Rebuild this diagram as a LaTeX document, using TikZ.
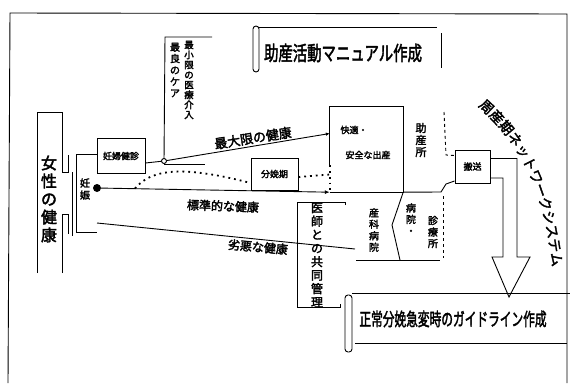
\documentclass[tikz,border=0pt]{standalone}
\usepackage{fontspec}
\newfontfamily\jpfont[BoldFont={Noto Sans CJK JP}, BoldFeatures={FakeBold=2.5}]{Noto Sans CJK JP}
\newcommand\jfs[2]{\jpfont\bfseries\fontsize{#1}{#2}\selectfont}
\usetikzlibrary{arrows.meta,decorations.text}
\begin{document}
\begin{tikzpicture}[x=1pt,y=-1pt,
  ln/.style={line width=0.9pt},
  bx/.style={draw, line width=0.9pt, inner sep=0pt},
  vt/.style={align=center, inner sep=0pt},
  lb/.style={inner sep=0pt},
  dots/.style={line width=1.8pt, dash pattern=on 1.8pt off 4pt}]
\useasboundingbox (0,0) rectangle (573,383);
% outer frame
\draw[ln] (8,383) -- (10,13) -- (567,14) -- (567,383);
% women's health box
\draw[ln] (37,273) -- (37,112) -- (62,112) -- (62,172) -- (68,172) -- (68,155);
\draw[ln] (62,273) -- (62,214) -- (68,214) -- (68,234);
\node[vt, font=\jfs{16}{18}] (women) at (49,199) {女\\性\\の\\健\\康};
% bracket
\draw[ln] (97,154) -- (76,154) -- (76,232) -- (97,232);
\draw[ln] (72,172) -- (72,236);
% pregnancy
\node[vt, font=\jfs{10}{12}] (preg) at (85,189) {妊\\娠};
\node[circle, fill, inner sep=0pt, minimum size=8pt] (dot) at (97,188) {};
% boxes
\node[bx, minimum width=48pt, minimum height=35pt, font=\jfs{9}{10}] (exam) at (121,156) {妊婦健診};
\node[bx, minimum width=47pt, minimum height=32pt, font=\jfs{9}{10}] (phase) at (274.5,174) {分娩期};
\node[inner sep=0pt, minimum width=73pt, minimum height=85pt] (safe) at (366.5,149.5) {};
\node[lb, font=\jfs{9}{10}] (safeA) at (354,130) {快適・};
\node[lb, font=\jfs{9}{10}] (safeB) at (368,155) {安全な出産};
\node[bx, minimum width=35pt, minimum height=33pt, font=\jfs{9}{10}] (trans) at (472.5,166.5) {搬送};
% junction
\node[circle, draw, fill=white, line width=0.9pt, inner sep=0pt, minimum size=5pt] (j1) at (164,161) {};
\coordinate (cTop) at (165,37);
\coordinate (cTopR) at (212,37);
\coordinate (u1) at (205,164);
\draw[ln] (cTopR) -- (cTop) -- (j1);
\draw[ln] ([yshift=-7pt]exam.east) -- (j1);
\draw[ln] ([yshift=-3pt]j1.center) -- (u1);
\draw[ln,-{Latex[length=4pt,width=3.5pt]}] (j1) -- ([yshift=16pt]safe.west);
% safe box edges
\draw[ln] ([yshift=27pt]safe.south west) -- (safe.north west) -- (safe.north east) -- (safe.south east) -- (safe.south west);
\draw[dots] ([yshift=27pt]safe.south west) -- (safe.south west);
% standard path
\coordinate (d0) at (135,188.5);
\draw[dots] (d0) .. controls (152,168) and (185,166) .. ([yshift=-9pt]phase.west);
\draw[dots] ([yshift=-3pt]phase.east) -- ([yshift=-25pt]safe.west);
\draw[ln,-{Latex[length=5pt,width=4pt]}] (dot) -- (safe.south west);
% poor path
\coordinate (p1) at (97,223);
\coordinate (p2) at (355,249);
\draw[ln] (p1) -- (p2);
% labels of paths
\node[lb, font=\jfs{13}{14}, rotate=9] (best) at (253,138) {最大限の健康};
\node[lb, font=\jfs{12}{13}, rotate=-2] (std) at (223,206) {標準的な健康};
\node[lb, font=\jfs{12}{13}, rotate=-5] (poor) at (258,247) {劣悪な健康};
% care bracket texts
\node[vt, font=\jfs{10}{11.5}] (care) at (175,70) {最\\良\\の\\ケ\\ア};
\node[vt, font=\jfs{9.5}{10}] (minint) at (189,80) {最\\小\\限\\の\\医\\療\\介\\入};
% midwifery home
\node[vt, font=\jfs{11}{12}] (mw) at (421,140) {助\\産\\所};
\coordinate (mwR1) at (444,112);
\coordinate (mwR2) at (446,155);
\draw[ln, dashed] (mwR1) -- (mwR2) -- ([yshift=11pt]trans.west);
\coordinate (mwB) at (441,192);
\coordinate (mwB2) at (446,184);
\draw[ln] (safe.south east) -- (mwB) -- (mwB2) -- ([yshift=-14.5pt]trans.west);
% transport arrow
\draw[ln] ([yshift=8pt]trans.east) -- (517,158.5) -- (517,257) -- (530,257) -- (509,297) -- (492,257) -- (503,257) -- (503,178) -- ([yshift=-11.5pt]trans.east);
% hospital section
\coordinate (k1) at (392,225);
\coordinate (k2) at (400,260);
\draw[ln] (safe.south east) -- (k1) -- (k2);
\draw[ln] (356,260) -- (440,260);
\draw[ln, dashed] (443,196) -- (443,258);
\node[vt, font=\jfs{10}{11.5}] (obh) at (374,230) {産\\科\\病\\院};
\node[vt, font=\jfs{10}{11.5}] (hosp) at (411,219) {病\\院\\・};
\node[vt, font=\jfs{10}{11.5}] (clin) at (433,232) {診\\療\\所};
% doctor bracket
\draw[ln] (345,205) -- (345,202) -- (297,202) -- (297,307) -- (340,307) -- (340,304);
\node[vt, font=\jfs{12}{13.5}] (doc) at (317,255) {医\\師\\と\\の\\共\\同\\管\\理};
% top scroll
\draw[ln, rounded corners=3pt] (253,26) rectangle (259,72);
\draw[ln] (259,27) -- (437,27);
\draw[ln] (441,33) -- (441,68);
\node[lb, font=\jfs{20}{20}, xscale=0.72] (manual) at (343,53) {助産活動マニュアル作成};
% bottom scroll
\draw[ln, rounded corners=3pt] (345,295) rectangle (352,352);
\draw[ln] (352,293) -- (570,293);
\draw[ln] (355,343) -- (567,343);
\node[lb, font=\jfs{18}{18}, xscale=0.65] (guide) at (453,319) {正常分娩急変時のガイドライン作成};
% curved network text
\path[decorate, decoration={text along path, text={|\jfs{14}{14}|周産期ネットワークシステム}, text align=left}] (478,106) .. controls (516,140) and (549,185) .. (555,300);
\end{tikzpicture}
\end{document}
